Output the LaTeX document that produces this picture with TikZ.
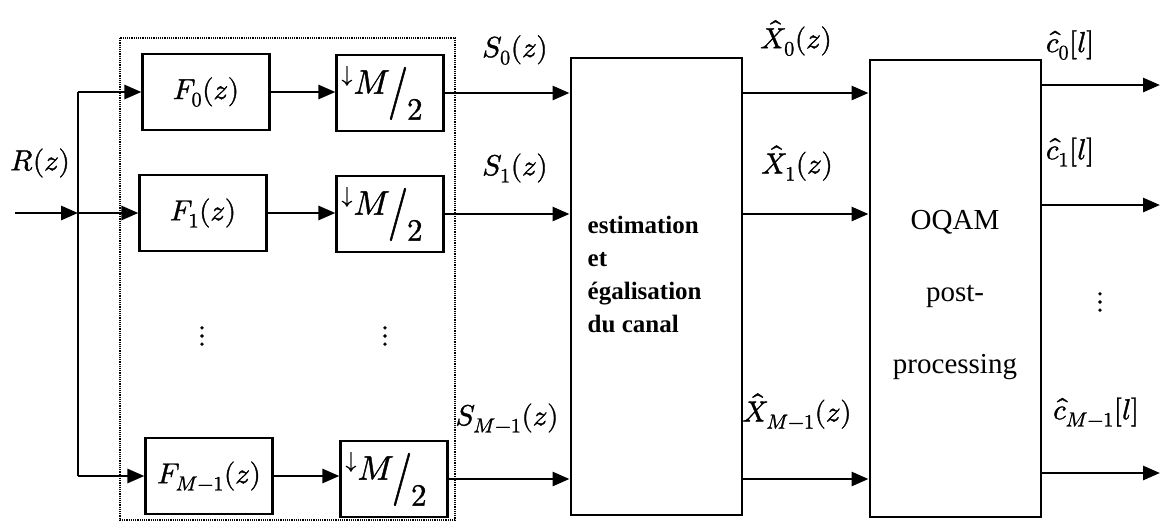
\documentclass[tikz,border=0pt]{standalone}
\usepackage{fontspec}
\usepackage{unicode-math}
\setmathfont{Latin Modern Math}[FakeBold=1.2]
\newfontfamily\tnr{Liberation Serif}
\usetikzlibrary{arrows.meta}
\newcommand\dsM{\raisebox{38pt}{\fontsize{22}{22}\selectfont$\downarrow$}\kern1pt\raisebox{26pt}{\fontsize{34}{34}\selectfont$M$}\kern-2pt\raisebox{13pt}{\scalebox{1.3}[1.7]{$/$}}\kern-1pt$2$\kern16pt}
\begin{document}
\begin{tikzpicture}[x=1pt,y=-1pt,
  fbox/.style={draw, line width=2.2pt, minimum width=127pt, minimum height=76pt, inner sep=0pt, font=\fontsize{29}{30}\selectfont},
  dbox/.style={draw, line width=2.2pt, minimum width=107pt, minimum height=76pt, inner sep=0pt, font=\fontsize{31}{36}\selectfont},
  bigbox/.style={draw, line width=2pt, minimum width=171pt, minimum height=457pt, inner sep=0pt},
  arr/.style={line width=2.8pt, -{Triangle[length=17pt,width=14pt]}},
  lab/.style={font=\fontsize{29}{30}\selectfont, inner sep=0pt},
  midtext/.style={font=\tnr\bfseries\fontsize{25}{33}\selectfont, align=left, inner sep=0pt},
  otext/.style={font=\tnr\fontsize{29}{72}\selectfont, align=center, inner sep=0pt},
  ]
\useasboundingbox (0,0) rectangle (1163,523);
% filter bank frame
\draw[densely dotted, line width=1.2pt] (120,38) rectangle (455,520);
% filters
\node[fbox] (F0) at (206,92) {$F_0(z)$};
\node[fbox] (F1) at (203,213) {$F_1(z)$};
\node[fbox] (FM) at (209,476) {$F_{M-1}(z)$};
% decimators
\node[dbox] (D0) at (390,93) {\dsM};
\node[dbox] (D1) at (390,214) {\dsM};
\node[dbox] (DM) at (394,479) {\dsM};
% dots
\node[lab] (v1) at (202,336) {$\vdots$};
\node[lab] (v2) at (385,336) {$\vdots$};
% big blocks
\node[bigbox] (M) at (656,286.5) {};
\node[bigbox] (O) at (955,288.5) {};
\node[midtext, anchor=west] (mt) at ([xshift=18pt,yshift=12pt]M.west) {estimation\\et\\égalisation\\du canal};
\node[otext] (ot) at ([yshift=-7pt]O.center) {OQAM\\post-\\processing};
% input
\coordinate (in) at (15,213);
\coordinate (sp) at (78,213);
\node[lab] (R) at (40,163) {$R(z)$};
\draw[arr] (in) -- (sp);
\draw[line width=2.8pt] (sp |- F0.west) -- (sp |- FM.west);
\draw[arr] (sp |- F0.west) -- (F0.west);
\draw[arr] (sp |- F1.west) -- (F1.west);
\draw[arr] (sp |- FM.west) -- (FM.west);
% filters to decimators
\draw[arr] (F0.east) -- (F0.east -| D0.west);
\draw[arr] (F1.east) -- (F1.east -| D1.west);
\draw[arr] (FM.east) -- (FM.east -| DM.west);
% decimators to estimation
\draw[arr] (D0.east) -- (D0.east -| M.west);
\draw[arr] (D1.east) -- (D1.east -| M.west);
\draw[arr] (DM.east) -- (DM.east -| M.west);
\node[lab] (s0) at (515,50) {$S_0(z)$};
\node[lab] (s1) at (515,168) {$S_1(z)$};
\node[lab] (sm) at (507,418) {$S_{M-1}(z)$};
% estimation to OQAM
\draw[arr] (M.east |- D0.east) -- (O.west |- D0.east);
\draw[arr] (M.east |- D1.east) -- (O.west |- D1.east);
\draw[arr] (M.east |- DM.east) -- (O.west |- DM.east);
\node[lab] (x0) at (796,38) {$\hat{X}_0(z)$};
\node[lab] (x1) at (797,163) {$\hat{X}_1(z)$};
\node[lab] (xm) at (797,411) {$\hat{X}_{M-1}(z)$};
% outputs
\coordinate (o0) at (1160,85);
\coordinate (o1) at (1160,205);
\coordinate (om) at (1160,473);
\draw[arr] (O.east |- o0) -- (o0);
\draw[arr] (O.east |- o1) -- (o1);
\draw[arr] (O.east |- om) -- (om);
\node[lab] (c0) at (1070,45) {$\hat{c}_0[l]$};
\node[lab] (c1) at (1070,152) {$\hat{c}_1[l]$};
\node[lab] (cm) at (1096,412) {$\hat{c}_{M-1}[l]$};
\node[lab] (v3) at (1100,302) {$\vdots$};
\end{tikzpicture}
\end{document}
